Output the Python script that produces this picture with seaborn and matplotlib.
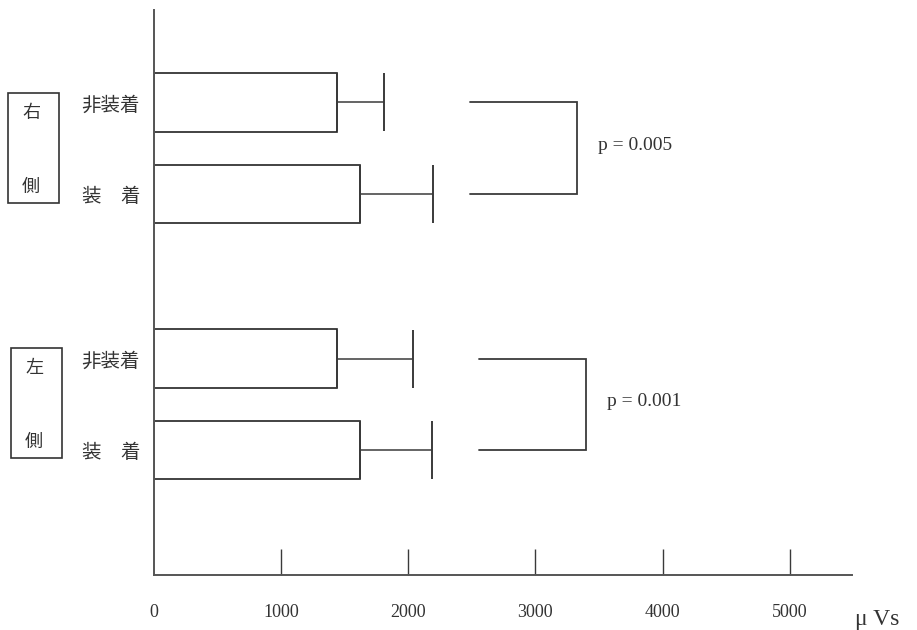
import numpy as np
import pandas as pd
import matplotlib.pyplot as plt
import seaborn as sns
from matplotlib.patches import Rectangle

# values (uVs)
sides = ["右側", "右側", "左側", "左側"]
conditions = ["非装着", "装　着", "非装着", "装　着"]
means = [1440, 1620, 1440, 1620]
errors = [370, 573, 597, 566]
p_labels = ["p = 0.005", "p = 0.001"]
x_ticks = [0, 1000, 2000, 3000, 4000, 5000]

# row positions (gap between the two sides)
rows = [0.0, 1.0, 2.8, 3.8]

df = pd.DataFrame({"side": sides, "cond": conditions, "mean": means,
                   "err": errors, "row": rows})

sns.set_style("white")
plt.rcParams["font.family"] = ["Liberation Serif", "Noto Sans CJK JP", "DejaVu Sans"]
jp = ["Noto Sans CJK JP", "DejaVu Sans"]
line_c = "#3a3a3a"

fig = plt.figure(figsize=(9.17, 6.3), dpi=100)
ax = fig.add_axes([154 / 917, 55 / 630, (852 - 154) / 917, 565 / 630])

sns.barplot(data=df, x="mean", y="row", orient="h", native_scale=True,
            color="white", edgecolor="#222222", linewidth=1.2, width=0.64,
            errorbar=None, ax=ax)
for patch in ax.patches:
    patch.set_facecolor("white")

ax.errorbar(df["mean"], df["row"], xerr=[np.zeros(len(df)), df["err"]],
            fmt="none", ecolor=line_c, elinewidth=1.1, capsize=21,
            capthick=1.4)

# significance brackets
brackets = [(0, 1, 2485, 3325), (2, 3, 2555, 3395)]
for (i, j, x0, x1), lab in zip(brackets, p_labels):
    ya, yb = df["row"][i], df["row"][j]
    ax.plot([x0, x1, x1, x0], [ya, ya, yb, yb], color=line_c, lw=1.3,
            solid_joinstyle="miter")
    ax.text(x1 + 165, (ya + yb) / 2 - 0.03, lab, fontsize=14,
            va="center", ha="left", color="#333333")

ax.set_xlim(0, 5490)
ax.set_ylim(5.166, -1.011)
ax.set_xticks(x_ticks)
ax.set_xticklabels([str(t) for t in x_ticks], fontsize=13, color="#333333")
ax.tick_params(axis="x", direction="in", length=19, width=1.0,
               color=line_c, pad=21, bottom=True)
ax.xaxis.get_major_ticks()[0].tick1line.set_visible(False)
ax.set_yticks(df["row"])
ax.set_yticklabels(df["cond"], fontsize=14, family=jp, color="#333333")
ax.tick_params(axis="y", length=0, pad=10)
ax.set_xlabel("")
ax.set_ylabel("")

sns.despine(ax=ax, top=True, right=True)
for s in ["left", "bottom"]:
    ax.spines[s].set_color("#555555")
    ax.spines[s].set_linewidth(1.4)

# unit label
fig.text(855 / 917, 1 - 619 / 630, "μ Vs", fontsize=17,
         ha="left", va="center", color="#333333")

# boxed side labels
boxes = [("右", "側", 8, 93), ("左", "側", 11, 348)]
for top_ch, bot_ch, bx, by in boxes:
    fig.patches.append(Rectangle((bx / 917, 1 - (by + 110) / 630), 51 / 917,
                                 110 / 630, transform=fig.transFigure,
                                 fill=False, edgecolor="#333333", lw=1.2))
    fig.text((bx + 23) / 917, 1 - (by + 20) / 630, top_ch, fontsize=13,
             family=jp, ha="center", va="center", color="#333333")
    fig.text((bx + 23) / 917, 1 - (by + 94) / 630, bot_ch, fontsize=13,
             family=jp, ha="center", va="center", color="#333333")

fig.savefig("out.png", dpi=100)
plt.close(fig)
